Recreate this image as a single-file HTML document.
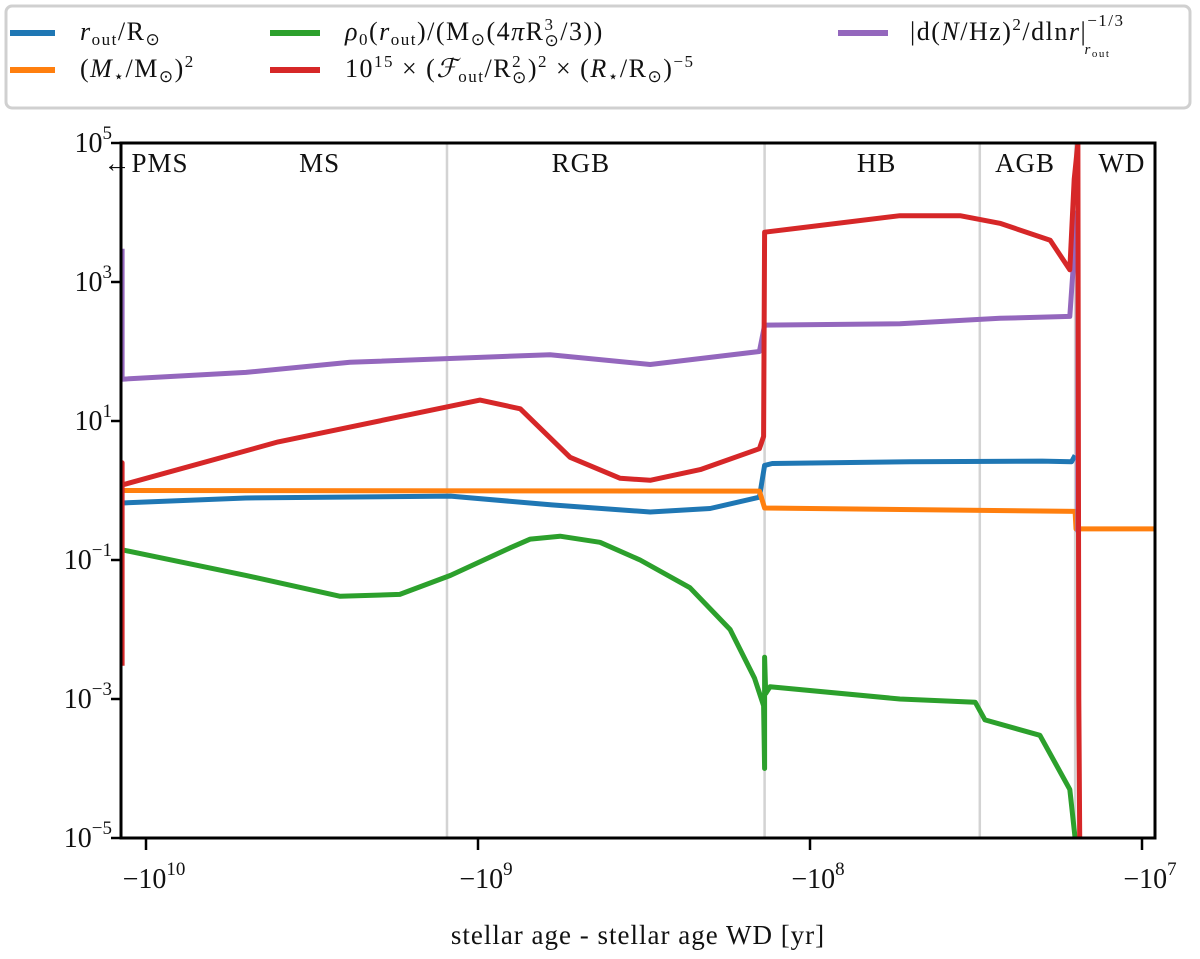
<!DOCTYPE html>
<html><head><meta charset="utf-8"><style>
body{margin:0;background:#fff;}
svg text{font-family:"Liberation Serif",serif;fill:#111;}
</style></head><body>
<svg id="chart" width="1200" height="954" viewBox="0 0 1200 954" xmlns="http://www.w3.org/2000/svg">
<g id="legend" letter-spacing="1.5">
<rect x="6" y="6" width="1184" height="102" rx="6" fill="#fff" stroke="#d0d0d0" stroke-width="3"/>
<g><line x1="10" y1="33" x2="55" y2="33" stroke="#1f77b4" stroke-width="6"/><text x="80" y="40" font-size="26"><tspan font-style="italic">r</tspan><tspan font-size="17" dy="5">out</tspan><tspan dy="-5">/R</tspan><tspan font-size="17" dy="5">⊙</tspan></text></g>
<g><line x1="10" y1="70" x2="55" y2="70" stroke="#ff7f0e" stroke-width="6"/><text x="80" y="77" font-size="26">(<tspan font-style="italic">M</tspan><tspan font-size="17" dy="5">⋆</tspan><tspan dy="-5">/M</tspan><tspan font-size="17" dy="5">⊙</tspan><tspan dy="-5">)</tspan><tspan font-size="17" dy="-10">2</tspan></text></g>
<g><line x1="270" y1="33" x2="320" y2="33" stroke="#2ca02c" stroke-width="6"/><text x="345" y="40" font-size="26"><tspan font-style="italic">ρ</tspan><tspan font-size="17" dy="5">0</tspan><tspan dy="-5">(</tspan><tspan font-style="italic">r</tspan><tspan font-size="17" dy="5">out</tspan><tspan dy="-5">)/(M</tspan><tspan font-size="17" dy="5">⊙</tspan><tspan dy="-5">(4</tspan><tspan font-style="italic">π</tspan>R<tspan font-size="17" dy="-10">3</tspan><tspan font-size="17" dx="-10" dy="16">⊙</tspan><tspan dy="-6">/3))</tspan></text></g>
<g><line x1="270" y1="70" x2="320" y2="70" stroke="#d62728" stroke-width="6"/><text x="345" y="77" font-size="26">10<tspan font-size="17" dy="-10">15</tspan><tspan dy="10"> × (</tspan><tspan font-style="italic">ℱ</tspan><tspan font-size="17" dy="5">out</tspan><tspan dy="-5">/R</tspan><tspan font-size="17" dy="-10">2</tspan><tspan font-size="17" dx="-10" dy="16">⊙</tspan><tspan dy="-6">)</tspan><tspan font-size="17" dy="-10">2</tspan><tspan dy="10"> × (</tspan><tspan font-style="italic">R</tspan><tspan font-size="17" dy="5">⋆</tspan><tspan dy="-5">/R</tspan><tspan font-size="17" dy="5">⊙</tspan><tspan dy="-5">)</tspan><tspan font-size="17" dy="-10">−5</tspan></text></g>
<g><line x1="838" y1="33" x2="888" y2="33" stroke="#9467bd" stroke-width="6"/><text x="910" y="40" font-size="26">|d(<tspan font-style="italic">N</tspan>/Hz)<tspan font-size="17" dy="-10">2</tspan><tspan dy="10">/dln</tspan><tspan font-style="italic">r</tspan>|<tspan font-size="17" dy="-14">−1/3</tspan><tspan font-size="15" dx="-40" dy="28" font-style="italic">r</tspan><tspan font-size="11" dy="3">out</tspan></text></g>
</g>
<g id="grid"></g>
<g id="series"></g>
<g id="axes"></g>
</svg>
<script>
const NS='http://www.w3.org/2000/svg';
const xTicks=[-1e10,-1e9,-1e8,-1e7];
const xTickLabels=['10','9','8','7'];
const yTicks=[1e5,1e3,1e1,1e-1,1e-3,1e-5];
const yTickExps=['5','3','1','−1','−3','−5'];
const phaseBounds=[-1.24e9,-1.37e8,-3.08e7,-1.59e7];
const phaseNames=['←PMS','MS','RGB','HB','AGB','WD'];
const phaseLabelAges=[-1.0e10,-3.0e9,-4.9e8,-6.3e7,-2.25e7,-1.15e7];
const blueAge=[-1.18e10,-5e9,-1.21e9,-6e8,-3.03e8,-2e8,-1.42e8,-1.37e8,-1.3e8,-5e7,-2e7,-1.63e7,-1.59e7];
const blueVal=[0.66,0.78,0.83,0.62,0.49,0.55,0.8,2.3,2.45,2.6,2.65,2.6,3.2];
const orangeAge=[-1.18e10,-1.42e8,-1.37e8,-1.59e7,-1.58e7,-9.1e6];
const orangeVal=[1.0,0.98,0.56,0.5,0.28,0.28];
const greenAge=[-1.18e10,-5e9,-2.6e9,-1.72e9,-1.21e9,-8e8,-6.96e8,-5.66e8,-4.29e8,-3.25e8,-2.3e8,-1.74e8,-1.47e8,-1.38e8,-1.37e8,-1.37e8,-1.36e8,-1.32e8,-5.36e7,-3.18e7,-2.97e7,-2.03e7,-1.65e7,-1.59e7];
const greenVal=[0.14,0.06,0.03,0.032,0.06,0.15,0.2,0.22,0.18,0.1,0.04,0.01,0.002,0.0008,0.0001,0.004,0.0012,0.0015,0.001,0.0009,0.0005,0.0003,0.00005,0.00001];
const redAge=[-1.18e10,-1.18e10,-1.18e10,-4e9,-9.86e8,-7.46e8,-5.28e8,-3.73e8,-3.03e8,-2.14e8,-1.42e8,-1.38e8,-1.37e8,-1.07e8,-5.36e7,-3.53e7,-2.68e7,-1.89e7,-1.65e7,-1.6e7,-1.56e7,-1.55e7,-1.54e7];
const redVal=[0.003,2.5,1.2,5,20,15,3,1.5,1.4,2,4,6,5200,6000,9000,9000,7000,4000,1500,30000,100000,0.001,0.00001];
const purpleAge=[-1.18e10,-1.18e10,-5e9,-2.43e9,-6.07e8,-3.03e8,-1.42e8,-1.37e8,-5.36e7,-2.68e7,-1.65e7,-1.57e7,-1.56e7,-1.56e7];
const purpleVal=[3000,40,50,70,90,65,100,240,250,300,320,10000,10000,0.25];

const X0=121,X1=1155,Y0=143,Y1=838;
function xs(a){return 478+(9-Math.log10(-a))*332;}
function ys(v){return Y0+(5-Math.log10(v))*69.5;}
const svg=document.getElementById('chart');
const grid=document.getElementById('grid'),ser=document.getElementById('series'),axes=document.getElementById('axes');
function mk(tag,attrs,parent){const e=document.createElementNS(NS,tag);for(const k in attrs)e.setAttribute(k,attrs[k]);parent.appendChild(e);return e;}
const cp=mk('clipPath',{id:'clip'},svg);mk('rect',{x:X0,y:Y0,width:X1-X0,height:Y1-Y0},cp);
phaseBounds.forEach(a=>{const l=mk('line',{x1:xs(a),x2:xs(a),y1:Y0,y2:Y1,stroke:'#d3d3d3','stroke-width':2.5},grid);

});
phaseNames.forEach((n,i)=>{const t=mk('text',{x:xs(phaseLabelAges[i]),y:172,'font-size':27,'text-anchor':'middle','letter-spacing':1},axes);t.textContent=n;

});
function line(ages,vals,color,name){const p=mk('polyline',{points:ages.map((a,i)=>xs(a).toFixed(1)+','+ys(vals[i]).toFixed(1)).join(' '),fill:'none',stroke:color,'stroke-width':5,'stroke-linejoin':'round','clip-path':'url(#clip)'},ser);

}
line(blueAge,blueVal,'#1f77b4','series-r-out');
line(orangeAge,orangeVal,'#ff7f0e','series-mass-squared');
line(greenAge,greenVal,'#2ca02c','series-density');
line(purpleAge,purpleVal,'#9467bd','series-brunt');
line(redAge,redVal,'#d62728','series-flux');
const fr=mk('rect',{x:X0,y:Y0,width:X1-X0,height:Y1-Y0,fill:'none',stroke:'#000','stroke-width':3},axes);


xTicks.forEach((a,i)=>{const x=xs(a);mk('line',{x1:x,x2:x,y1:Y1,y2:Y1+12,stroke:'#000','stroke-width':2.5},axes);
const t=mk('text',{x:x+8,y:Y1+50,'font-size':28,'text-anchor':'middle'},axes);
t.innerHTML='−10<tspan font-size="19" dy="-13">'+xTickLabels[i]+'</tspan>';

});
yTicks.forEach((v,i)=>{const y=ys(v);mk('line',{x1:X0-10,x2:X0,y1:y,y2:y,stroke:'#000','stroke-width':2.5},axes);
const t=mk('text',{x:112,y:y+9,'font-size':28,'text-anchor':'end'},axes);
t.innerHTML='10<tspan font-size="19" dy="-13">'+yTickExps[i]+'</tspan>';

});
const xt=mk('text',{x:638,y:944,'font-size':27,'text-anchor':'middle','letter-spacing':1},axes);xt.textContent='stellar age - stellar age WD [yr]';


</script>
</body></html>
